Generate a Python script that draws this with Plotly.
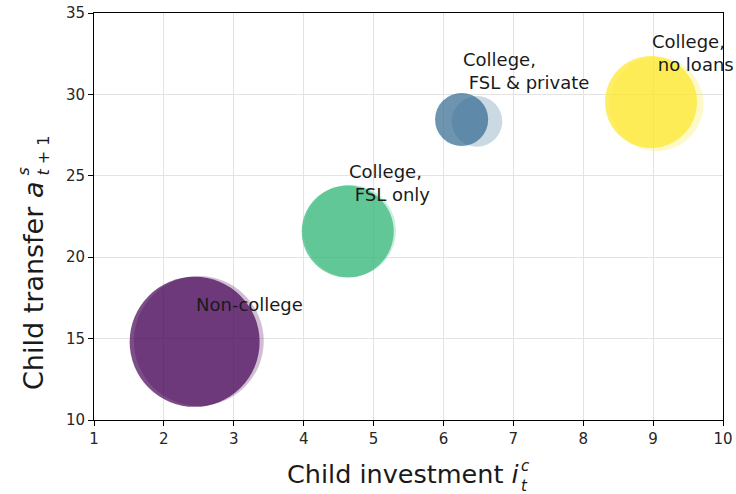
import plotly.graph_objects as go

# Groups and their outcomes (child investment, child transfer, population share)
groups = ["Non-college", "College,<br>\u00a0FSL only", "College,<br>\u00a0FSL & private", "College,<br>\u00a0no loans"]
colors = ["#440154", "#35b779", "#31688e", "#fde725"]

# baseline economy
invest_base = [2.44, 4.63, 6.26, 8.97]
transfer_base = [14.80, 21.58, 28.46, 29.53]
share_base = [0.461, 0.231, 0.077, 0.231]

# counterfactual economy
invest_cf = [2.50, 4.66, 6.48, 9.05]
transfer_cf = [14.85, 21.62, 28.34, 29.40]
share_cf = [0.460, 0.232, 0.070, 0.240]

x_ticks = list(range(1, 11))
y_ticks = list(range(10, 36, 5))

W, H = 736, 494
L, R, T, B = 94, 13, 13, 74
PW, PH = W - L - R, H - T - B

def px(xp):
    return (xp - L) / PW

def py(yp):
    return (H - B - yp) / PH

# bubble area proportional to population share (largest ~130 px across)
SIZEREF = 2 * 0.461 / 130 ** 2
FONT = "DejaVu Sans"

fig = go.Figure()
fig.add_trace(go.Scatter(
    x=invest_base, y=transfer_base, mode="markers",
    marker=dict(size=share_base, sizemode="area", sizeref=SIZEREF,
                color=colors, opacity=0.7, line=dict(width=0)),
    hoverinfo="skip", showlegend=False))
fig.add_trace(go.Scatter(
    x=invest_cf, y=transfer_cf, mode="markers",
    marker=dict(size=share_cf, sizemode="area", sizeref=SIZEREF,
                color=colors, opacity=0.25, line=dict(width=0)),
    hoverinfo="skip", showlegend=False))

annotations = []
for g, xv, yv in zip(groups, invest_base, transfer_base):
    annotations.append(dict(x=xv, y=yv + 2, text=g, xref="x", yref="y",
                            xanchor="left", yanchor="bottom", align="left",
                            showarrow=False, borderpad=0, yshift=-7,
                            font=dict(family=FONT, size=18, color="#1a1a1a")))

# axis labels; superscript and subscript stacked as a two-line block
xlab = dict(family=FONT, size=25.5, color="#1a1a1a")
ylab = dict(family=FONT, size=27, color="#1a1a1a")
small = dict(family=FONT, size=15, color="#1a1a1a")
small_y = dict(family=FONT, size=16, color="#1a1a1a")
annotations += [
    dict(text="Child investment <i>i</i>", x=px(521), y=py(474), xref="paper", yref="paper",
         xanchor="right", yanchor="middle", showarrow=False, font=xlab),
    dict(text="<i>c</i><br><i>t</i>", x=px(520), y=py(476), xref="paper", yref="paper",
         xanchor="left", yanchor="middle", align="left", borderpad=0,
         showarrow=False, font=small),
    dict(text="Child transfer <i>a</i>", x=px(33), y=py(392), xref="paper", yref="paper",
         xanchor="center", yanchor="bottom", textangle=-90, showarrow=False, font=ylab),
    dict(text="<i>s</i><br><i>t</i> + 1", x=px(33.5), y=py(177), xref="paper", yref="paper",
         xanchor="center", yanchor="bottom", textangle=-90, align="left", borderpad=0,
         showarrow=False, font=small_y),
]

axis_common = dict(showline=True, linecolor="black", linewidth=1, mirror=True,
                   ticks="outside", ticklen=5, tickwidth=1, tickcolor="black",
                   showgrid=True, gridcolor="#e3e3e3", gridwidth=1, zeroline=False,
                   automargin=False,
                   tickfont=dict(family=FONT, size=15, color="#262626"))

fig.update_layout(
    width=W, height=H, margin=dict(l=L, r=R, t=T, b=B, pad=0),
    paper_bgcolor="white", plot_bgcolor="white",
    xaxis=dict(range=[1, 10], tickvals=x_ticks, **axis_common),
    yaxis=dict(range=[10, 35], tickvals=y_ticks, **axis_common),
    annotations=annotations,
)

fig.write_html("out.html")
